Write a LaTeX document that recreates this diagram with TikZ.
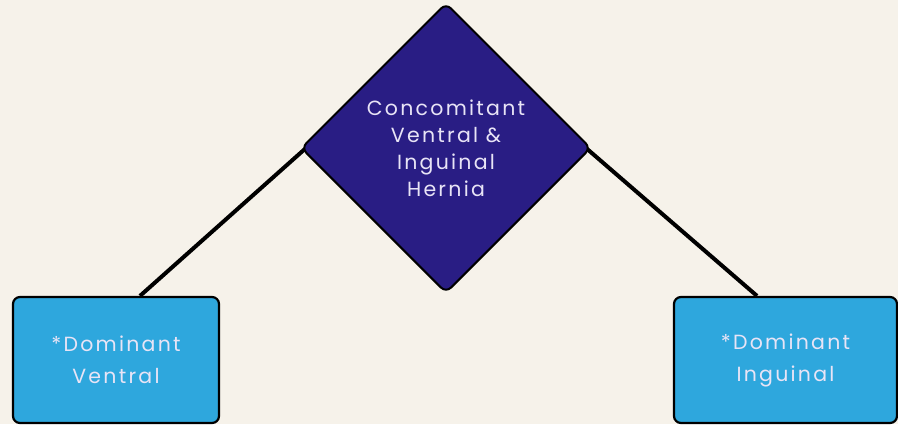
\documentclass[tikz,border=0pt]{standalone}
\usepackage{fontspec}
\setmainfont{Poppins}[LetterSpace=11]
\usetikzlibrary{shapes.geometric,backgrounds}
\definecolor{bgc}{HTML}{F6F2EA}
\definecolor{diafill}{HTML}{291D84}
\definecolor{boxfill}{HTML}{2EA7DD}
\definecolor{txtc}{HTML}{E8E4F6}
\tikzset{
  diabox/.style={diamond, aspect=1, minimum size=290pt, inner sep=0pt, fill=diafill, draw=black, line width=2pt, rounded corners=7pt, text=txtc, align=center, font=\fontsize{20.5}{27}\selectfont},
  leafbox/.style={rectangle, minimum width=206pt, minimum height=126pt, fill=boxfill, draw=black, line width=2.2pt, rounded corners=7pt, text=txtc, align=center, font=\fontsize{20.5}{32}\selectfont},
  link/.style={draw=black, line width=4pt}
}
\begin{document}
\begin{tikzpicture}[x=1pt,y=-1pt]
  \useasboundingbox (0,0) rectangle (898,424);
  \node[diabox] (d) at (446,148) {Concomitant\\Ventral \&\\Inguinal\\Hernia};
  \node[leafbox] (l) at (116,360) {*Dominant\\Ventral};
  \node[leafbox, minimum width=223pt] (r) at (785.5,360) {*Dominant\\Inguinal};
  \begin{scope}[on background layer]
    \fill[bgc] (0,0) rectangle (898,424);
    \draw[link] ([xshift=6pt]d.west) -- ([xshift=24pt]l.north);
    \draw[link] ([xshift=-6pt]d.east) -- ([xshift=-28.5pt]r.north);
  \end{scope}
\end{tikzpicture}
\end{document}
